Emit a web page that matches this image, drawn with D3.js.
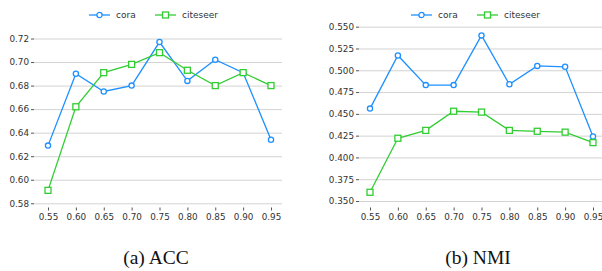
<!DOCTYPE html>
<html>
<head>
<meta charset="utf-8">
<script src="https://cdn.jsdelivr.net/npm/d3@7"></script>
<style>
	body { margin: 0; background: #fff; }
	.tick text { font-family: "DejaVu Sans", sans-serif; fill: #333; }
	.grid .tick line { stroke: #d3d3d3; stroke-width: 1; }
	.grid .domain { display: none; }
	.axis .domain { display: none; }
	.axis .tick line { stroke: #555; }
</style>
</head>
<body>
<script>
(function() {

	// ratio values on the x axis
	var ratios = [0.55, 0.60, 0.65, 0.70, 0.75, 0.80, 0.85, 0.90, 0.95];
	var seriesNames = ["cora", "citeseer"];

	// (a) ACC
	var accCora     = [0.629, 0.690, 0.675, 0.680, 0.717, 0.684, 0.702, 0.691, 0.634];
	var accCiteseer = [0.591, 0.662, 0.691, 0.698, 0.708, 0.693, 0.680, 0.691, 0.680];
	var accTicks = [0.58, 0.60, 0.62, 0.64, 0.66, 0.68, 0.70, 0.72];

	// (b) NMI
	var nmiCora     = [0.456, 0.517, 0.483, 0.483, 0.540, 0.484, 0.505, 0.504, 0.424];
	var nmiCiteseer = [0.360, 0.422, 0.431, 0.453, 0.452, 0.431, 0.430, 0.429, 0.417];
	var nmiTicks = [0.350, 0.375, 0.400, 0.425, 0.450, 0.475, 0.500, 0.525, 0.550];

	var colors = ["#1e90ff", "#32cd32"];

	var svg = d3.select("body")
		.append("svg")
		.attr("width", 602)
		.attr("height", 271);

	function drawPanel(cfg) {
		var g = svg.append("g");

		var x = d3.scaleLinear()
			.domain([0.55, 0.95])
			.range([cfg.x0, cfg.x1]);

		var y = d3.scaleLinear()
			.domain(d3.extent(cfg.ticks))
			.range([cfg.yBottom, cfg.yTop]);

		// horizontal grid
		g.append("g")
			.attr("class", "grid")
			.attr("transform", "translate(" + cfg.gridLeft + ",0)")
			.call(d3.axisRight(y).tickValues(cfg.ticks).tickSize(cfg.gridRight - cfg.gridLeft).tickFormat(""));

		// y axis
		g.append("g")
			.attr("class", "axis")
			.attr("transform", "translate(" + cfg.gridLeft + ",0)")
			.call(d3.axisLeft(y).tickValues(cfg.ticks).tickSize(3).tickPadding(2).tickFormat(d3.format(cfg.fmt)))
			.selectAll("text")
			.style("font-size", "8.8px");

		// x axis
		g.append("g")
			.attr("class", "axis")
			.attr("transform", "translate(0," + cfg.xAxisY + ")")
			.call(d3.axisBottom(x).tickValues(ratios).tickSize(3).tickPadding(3).tickFormat(d3.format(".2f")))
			.selectAll("text")
			.style("font-size", "8.8px");

		var line = d3.line()
			.x(function(d, i) { return x(ratios[i]); })
			.y(function(d) { return y(d); });

		cfg.series.forEach(function(vals, s) {
			g.append("path")
				.datum(vals)
				.attr("fill", "none")
				.attr("stroke", colors[s])
				.attr("stroke-width", 1.3)
				.attr("d", line);

			if (s == 0) {
				g.selectAll(null)
					.data(vals)
					.enter().append("circle")
					.attr("cx", function(d, i) { return x(ratios[i]); })
					.attr("cy", function(d) { return y(d); })
					.attr("r", 2.6)
					.attr("fill", "#fff")
					.attr("stroke", colors[s])
					.attr("stroke-width", 1.3);
			} else {
				g.selectAll(null)
					.data(vals)
					.enter().append("rect")
					.attr("x", function(d, i) { return x(ratios[i]) - 3; })
					.attr("y", function(d) { return y(d) - 3; })
					.attr("width", 6)
					.attr("height", 6)
					.attr("fill", "#fff")
					.attr("stroke", colors[s])
					.attr("stroke-width", 1.3);
			}
		});

		// legend
		var lx = [cfg.legendX, cfg.legendX + 66];
		seriesNames.forEach(function(name, s) {
			var lg = g.append("g").attr("transform", "translate(" + lx[s] + ",15)");
			lg.append("line")
				.attr("x1", 0).attr("x2", 21)
				.attr("stroke", colors[s])
				.attr("stroke-width", 1.3);
			if (s == 0) {
				lg.append("circle").attr("cx", 10.5).attr("r", 2.6)
					.attr("fill", "#fff").attr("stroke", colors[s]).attr("stroke-width", 1.3);
			} else {
				lg.append("rect").attr("x", 7.5).attr("y", -3).attr("width", 6).attr("height", 6)
					.attr("fill", "#fff").attr("stroke", colors[s]).attr("stroke-width", 1.3);
			}
			lg.append("text")
				.attr("x", 27)
				.attr("dy", "0.35em")
				.style("font-family", "DejaVu Sans, sans-serif")
				.style("font-size", "9px")
				.style("fill", "#333")
				.text(name);
		});

		// caption
		svg.append("text")
			.attr("x", cfg.captionX)
			.attr("y", 264)
			.attr("text-anchor", "middle")
			.style("font-family", "Liberation Serif, serif")
			.style("font-size", "19.5px")
			.style("fill", "#111")
			.text(cfg.caption);
	}

	drawPanel({
		x0: 48, x1: 271,
		yTop: 38.5, yBottom: 203.3,
		gridLeft: 34, gridRight: 282,
		xAxisY: 207.5,
		ticks: accTicks, fmt: ".2f",
		series: [accCora, accCiteseer],
		legendX: 89,
		caption: "(a) ACC", captionX: 156
	});

	drawPanel({
		x0: 370, x1: 593,
		yTop: 26.7, yBottom: 201,
		gridLeft: 359, gridRight: 602,
		xAxisY: 207.5,
		ticks: nmiTicks, fmt: ".3f",
		series: [nmiCora, nmiCiteseer],
		legendX: 411,
		caption: "(b) NMI", captionX: 478
	});

})();
</script>
</body>
</html>
